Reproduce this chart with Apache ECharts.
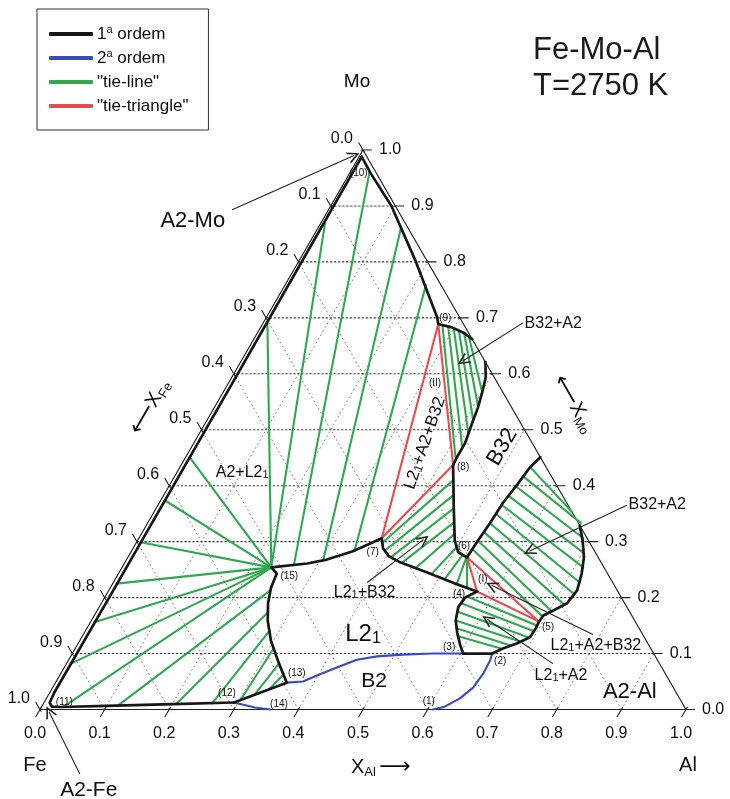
<!DOCTYPE html>
<html>
<head>
<meta charset="utf-8">
<script src="https://cdn.jsdelivr.net/npm/echarts@6/dist/echarts.min.js"></script>
<style>
  html, body { margin: 0; padding: 0; background: #fff; }
  #chart { width: 730px; height: 799px; }
</style>
</head>
<body>
<div id="chart"></div>
<script>
// Fe-Mo-Al isothermal section at T = 2750 K.
// Every composition below is written as [x_Al, x_Mo]; x_Fe = 1 - x_Al - x_Mo.

// ---- axis ticks ----
const tickValues = [0, 0.1, 0.2, 0.3, 0.4, 0.5, 0.6, 0.7, 0.8, 0.9, 1.0];
const tickLabels = ['0.0', '0.1', '0.2', '0.3', '0.4', '0.5', '0.6', '0.7', '0.8', '0.9', '1.0'];
const gridValues = [0.1, 0.2, 0.3, 0.4, 0.5, 0.6, 0.7, 0.8, 0.9];

// ---- first-order boundaries ----
const bndA2FeMo = [[0.004, 0.988], [0.006, 0.60], [0.007, 0.20], [0.007, 0.03], [0.009, 0.012], [0.016, 0.005], [0.03, 0.0045], [0.10, 0.0065], [0.20, 0.0095], [0.294, 0.0125]];
const bndA2MoAl = [[0.004, 0.988], [0.031, 0.960], [0.094, 0.900], [0.182, 0.800], [0.265, 0.700], [0.272, 0.689]];
const bndA2Cap = [[0.272, 0.689], [0.296, 0.683], [0.318, 0.674], [0.338, 0.662]];
const bndB32Upper = [[0.379, 0.621], [0.393, 0.594], [0.400, 0.571], [0.408, 0.540], [0.413, 0.512], [0.420, 0.476], [0.420, 0.454], [0.421, 0.437]];
const bndB32L21 = [[0.421, 0.437], [0.460, 0.361], [0.491, 0.302], [0.507, 0.281], [0.525, 0.272]];
const bndB32Lower = [[0.525, 0.272], [0.527, 0.302], [0.530, 0.333], [0.532, 0.369], [0.538, 0.404], [0.542, 0.433], [0.549, 0.451]];
const bndA2Al = [[0.671, 0.329], [0.689, 0.302], [0.706, 0.272], [0.717, 0.243], [0.725, 0.213], [0.721, 0.190], [0.706, 0.177], [0.695, 0.168], [0.694, 0.157], [0.695, 0.145], [0.694, 0.129], [0.679, 0.118], [0.662, 0.109], [0.650, 0.100]];
const bndB2Top = [[0.650, 0.100], [0.605, 0.100]];
const bndL21Right = [[0.605, 0.100], [0.593, 0.115], [0.578, 0.136], [0.564, 0.159], [0.556, 0.183], [0.558, 0.200], [0.571, 0.211]];
const bndL21Top = [[0.571, 0.211], [0.530, 0.225], [0.477, 0.245], [0.426, 0.263], [0.403, 0.274], [0.387, 0.288], [0.376, 0.306], [0.366, 0.299], [0.343, 0.283], [0.310, 0.268], [0.283, 0.261], [0.231, 0.254]];
const bndL21Left = [[0.231, 0.254], [0.245, 0.243], [0.249, 0.217], [0.258, 0.190], [0.273, 0.159], [0.296, 0.123], [0.329, 0.082], [0.358, 0.048], [0.294, 0.0125]];

// ---- second-order boundaries ----
const ord2Fe = [[0.294, 0.0125], [0.331, 0.0036], [0.356, 0]];
const ord2Mid = [[0.358, 0.048], [0.382, 0.050], [0.402, 0.063], [0.422, 0.075], [0.446, 0.089], [0.474, 0.095], [0.513, 0.098], [0.558, 0.100], [0.605, 0.100]];
const ord2Al = [[0.650, 0.100], [0.653, 0.088], [0.654, 0.064], [0.651, 0.039], [0.640, 0.020], [0.624, 0.005], [0.608, 0]];

// ---- tie-triangles ----
const triangleII = [[0.272, 0.689], [0.421, 0.437], [0.376, 0.306], [0.272, 0.689]];
const triangleI = [[0.525, 0.272], [0.694, 0.157], [0.571, 0.211], [0.525, 0.272]];

// ---- tie-lines ----
const tieA2L21 = [
  [[0.006, 0.871], [0.231, 0.254]],
  [[0.030, 0.960], [0.264, 0.258]],
  [[0.128, 0.862], [0.305, 0.267]],
  [[0.218, 0.759], [0.345, 0.284]],
  [[0.006, 0.692], [0.231, 0.254]],
  [[0.006, 0.451], [0.231, 0.254]],
  [[0.006, 0.374], [0.231, 0.254]],
  [[0.006, 0.299], [0.231, 0.254]],
  [[0.006, 0.225], [0.231, 0.254]],
  [[0.006, 0.156], [0.231, 0.254]],
  [[0.007, 0.082], [0.231, 0.254]],
  [[0.034, 0.005], [0.231, 0.254]],
  [[0.117, 0.007], [0.250, 0.213]],
  [[0.206, 0.010], [0.266, 0.174]],
  [[0.261, 0.011], [0.285, 0.141]],
  [[0.302, 0.017], [0.307, 0.109]],
  [[0.319, 0.027], [0.329, 0.082]],
  [[0.337, 0.037], [0.346, 0.063]]
];
const tieL21B32 = [
  [[0.381, 0.298], [0.435, 0.410]],
  [[0.392, 0.284], [0.449, 0.384]],
  [[0.407, 0.272], [0.461, 0.360]],
  [[0.429, 0.262], [0.474, 0.335]],
  [[0.455, 0.253], [0.485, 0.314]],
  [[0.485, 0.242], [0.500, 0.291]],
  [[0.510, 0.233], [0.516, 0.276]],
  [[0.533, 0.224], [0.524, 0.272]],
  [[0.552, 0.218], [0.525, 0.272]]
];
const tieB32A2Upper = [
  [[0.280, 0.686], [0.420, 0.447]],
  [[0.290, 0.684], [0.419, 0.469]],
  [[0.300, 0.681], [0.416, 0.494]],
  [[0.310, 0.677], [0.412, 0.517]],
  [[0.320, 0.673], [0.407, 0.542]],
  [[0.331, 0.666], [0.401, 0.567]]
];
const tieB32A2Lower = [
  [[0.545, 0.431], [0.646, 0.354]],
  [[0.539, 0.417], [0.671, 0.333]],
  [[0.537, 0.399], [0.688, 0.306]],
  [[0.536, 0.381], [0.703, 0.279]],
  [[0.533, 0.365], [0.714, 0.254]],
  [[0.532, 0.349], [0.722, 0.227]],
  [[0.530, 0.333], [0.724, 0.206]],
  [[0.529, 0.317], [0.717, 0.188]],
  [[0.528, 0.301], [0.705, 0.175]],
  [[0.527, 0.286], [0.695, 0.166]]
];
const tieL21A2 = [
  [[0.560, 0.202], [0.694, 0.150]],
  [[0.557, 0.190], [0.695, 0.140]],
  [[0.558, 0.175], [0.691, 0.129]],
  [[0.564, 0.159], [0.681, 0.122]],
  [[0.572, 0.145], [0.670, 0.115]],
  [[0.582, 0.131], [0.659, 0.109]]
];

// ---- invariant points ----
const nodeNames = ['(1)', '(2)', '(3)', '(4)', '(5)', '(6)', '(7)', '(8)', '(9)', '(10)', '(11)', '(12)', '(13)', '(14)', '(15)', '(I)', '(II)'];
const nodeAt = [[0.608, 0], [0.650, 0.100], [0.605, 0.100], [0.571, 0.211], [0.694, 0.157], [0.525, 0.272], [0.376, 0.306], [0.421, 0.437], [0.272, 0.689], [0.004, 0.988], [0.012, 0.005], [0.294, 0.0125], [0.358, 0.048], [0.356, 0], [0.231, 0.254], [0.569, 0.233], [0.320, 0.583]];

// ---- phase field names ----
const phaseNames = ['A2-Mo', 'A2-Fe', 'A2-Al', 'B2', 'L21', 'B32', 'L21+A2+B32', 'A2+L21', 'L21+B32', 'L21+A2+B32', 'L21+A2', 'B32+A2', 'B32+A2'];
const phaseAt = [[-0.200, 0.873], [0.148, -0.145], [0.897, 0.032], [0.492, 0.050], [0.433, 0.134], [0.481, 0.469], [0.358, 0.476], [0.101, 0.424], [0.398, 0.209], [0.803, 0.115], [0.776, 0.061], [0.450, 0.689], [0.772, 0.367]];

// ---- pointer arrows (tail -> head) ----
const pointerFrom = [[-0.149, 0.893], [0.119, -0.115], [0.402, 0.691], [0.726, 0.365], [0.393, 0.227], [0.789, 0.134], [0.753, 0.082]];
const pointerTo = [[-0.009, 0.990], [0.016, -0.004], [0.343, 0.623], [0.616, 0.283], [0.442, 0.304], [0.588, 0.222], [0.612, 0.161]];

// ---------------------------------------------------------------
const H = Math.sqrt(3) / 2;
const toXY = p => [p[0] + p[1] / 2, p[1] * H];
const FONT = '"Liberation Sans", Arial, Helvetica, sans-serif';
const ARROW_FONT = '"DejaVu Sans", sans-serif';
const INK = '#0d0d0d';

const COL_BLACK = '#161616';
const COL_BLUE = '#3a4bbf';
const COL_GREEN = '#2fa84f';
const COL_RED = '#e84a50';

function pathSeries(name, list, color, width, z, dash) {
  return {
    type: 'lines', name: name, coordinateSystem: 'cartesian2d', polyline: true,
    silent: true, animation: false, clip: false, z: z,
    lineStyle: { color: color, width: width, type: dash || 'solid', opacity: 1, cap: 'round', join: 'round' },
    itemStyle: { color: color },
    data: list.map(pl => ({ coords: pl.map(toXY) }))
  };
}

function textSeries(items, z) {
  return {
    type: 'scatter', silent: true, animation: false, clip: false, z: z,
    symbolSize: 0,
    itemStyle: { opacity: 1 },
    data: items.map(it => ({
      value: toXY(it.at),
      label: Object.assign({
        show: true, position: 'inside', formatter: () => it.text,
        fontFamily: FONT, color: INK, opacity: 1, align: 'center', verticalAlign: 'middle'
      }, it.style)
    }))
  };
}

// subscript "1" in L2_1
const subL21 = s => s.replace(/L21/g, 'L2{s|1}');

// triangle frame, grid, ticks
const frame = [[[0, 0], [1, 0], [0, 1], [0, 0]]];
const gridMo = gridValues.map(v => [[0, v], [1 - v, v]]);
const gridAl = gridValues.map(v => [[v, 0], [v, 1 - v]]);
const gridFe = gridValues.map(v => [[1 - v, 0], [0, 1 - v]]);
const ticksAl = tickValues.map(v => [[v, 0.004], [v, -0.013]]);
const ticksMo = tickValues.map(v => [[1 - v - 0.003, v], [1 - v + 0.013, v]]);
const ticksFe = tickValues.map(v => [[0.003, 1 - v - 0.003], [-0.013, 1 - v + 0.013]]);

const tickItems = [];
tickValues.forEach((v, i) => {
  tickItems.push({ at: [v, 0], text: tickLabels[i], style: { offset: [-5, 24], align: 'center', fontSize: 16 } });
  tickItems.push({ at: [1 - v, v], text: tickLabels[i], style: { offset: [16, 0], align: 'left', fontSize: 16 } });
  tickItems.push({ at: [0, 1 - v], text: tickLabels[i], style: { offset: [-10, -11], align: 'right', fontSize: 16 } });
});

const nodeShift = [[-4, -8], [8, 8], [-14, -6], [-18, 3], [9, 6], [-3, -11], [-9, 14], [10, 2], [7, -6], [-3, 17], [15, -4], [-7, -9], [10, -9], [9, -5], [18, 9], [0, 0], [0, 0]];
const nodeItems = nodeNames.map((n, i) => ({
  at: nodeAt[i], text: n, style: { offset: nodeShift[i], fontSize: 10, color: '#111' }
}));
// (I) and (II) label the tie-triangles themselves
nodeItems[15].at = [0.569, 0.233];
nodeItems[16].at = [0.320, 0.583];

const phaseSize = [22, 21, 22, 21, 24, 22, 17, 16, 16, 16, 16, 16, 16];
const phaseAngle = [0, 0, 0, 0, 0, 60, 71, 0, 0, 0, 0, 0, 0];
const phaseItems = phaseNames.map((n, i) => ({
  at: phaseAt[i], text: subL21(n),
  style: {
    fontSize: phaseSize[i], rotate: phaseAngle[i],
    rich: { s: { fontSize: Math.round(phaseSize[i] * 0.68), fontFamily: FONT, color: INK, verticalAlign: 'bottom', lineHeight: Math.round(phaseSize[i] * 0.55) } }
  }
}));

const arrowHead = 'path://M0,10 L5,0 L10,10 L8.5,10 L5,3 L1.5,10 Z';

const legendNames = ['1ª ordem', '2ª ordem', '"tie-line"', '"tie-triangle"'];

const axisTitleRich = {
  a: { fontFamily: ARROW_FONT, fontSize: 22, lineHeight: 24, verticalAlign: 'middle', fill: INK },
  x: { fontFamily: FONT, fontSize: 20, lineHeight: 24, verticalAlign: 'middle', fill: INK },
  s: { fontFamily: FONT, fontSize: 13, lineHeight: 12, verticalAlign: 'bottom', fill: INK }
};

const option = {
  backgroundColor: '#ffffff',
  animation: false,
  grid: { left: 40, top: 150, width: 646, height: 559.5, show: false },
  xAxis: { type: 'value', min: 0, max: 1, show: false },
  yAxis: { type: 'value', min: 0, max: H, show: false },
  legend: {
    data: legendNames,
    orient: 'vertical', left: 37, top: 9,
    icon: 'rect', itemWidth: 42, itemHeight: 2.2, itemGap: 4,
    padding: [15, 20, 14, 12],
    borderColor: '#333', borderWidth: 1, borderRadius: 0,
    selectedMode: false,
    formatter: n => n.replace(/^(\d)ª/, '$1{sup|a}'),
    textStyle: {
      fontFamily: FONT, fontSize: 17, color: INK, lineHeight: 20,
      rich: { sup: { fontFamily: FONT, fontSize: 11, color: INK, verticalAlign: 'top', lineHeight: 9 } }
    }
  },
  graphic: [
    { type: 'text', x: 533, y: 50, silent: true, style: { text: 'Fe-Mo-Al', fontFamily: FONT, fontSize: 31, fill: '#1a1a1a', align: 'left', verticalAlign: 'middle' } },
    { type: 'text', x: 533, y: 86, silent: true, style: { text: 'T=2750 K', fontFamily: FONT, fontSize: 31, fill: '#1a1a1a', align: 'left', verticalAlign: 'middle' } },
    { type: 'text', x: 357, y: 82, silent: true, style: { text: 'Mo', fontFamily: FONT, fontSize: 19, fill: INK, align: 'center', verticalAlign: 'middle' } },
    { type: 'text', x: 35, y: 765, silent: true, style: { text: 'Fe', fontFamily: FONT, fontSize: 20, fill: INK, align: 'center', verticalAlign: 'middle' } },
    { type: 'text', x: 688, y: 765, silent: true, style: { text: 'Al', fontFamily: FONT, fontSize: 20, fill: INK, align: 'center', verticalAlign: 'middle' } },
    {
      type: 'text', x: 351, y: 767, silent: true,
      style: { text: '{x|X}{s|Al} {a|⟶}', fontFamily: FONT, fill: INK, align: 'left', verticalAlign: 'middle', rich: axisTitleRich }
    },
    {
      type: 'text', x: 150, y: 407, rotation: Math.PI / 3, silent: true,
      style: { text: '{a|⟵}{x|X}{s|Fe}', fontFamily: FONT, fill: INK, align: 'center', verticalAlign: 'middle', rich: axisTitleRich }
    },
    {
      type: 'text', x: 574, y: 404, rotation: -Math.PI / 3, silent: true,
      style: { text: '{a|⟵}{x|X}{s|Mo}', fontFamily: FONT, fill: INK, align: 'center', verticalAlign: 'middle', rich: axisTitleRich }
    }
  ],
  series: [
    // grid
    pathSeries('', gridAl, '#8a8a8a', 1, 1, [1, 3.5]),
    pathSeries('', gridFe, '#8a8a8a', 1, 1, [1, 3.5]),
    pathSeries('', gridMo, '#3a3a3a', 1.1, 1, [1.4, 2.6]),
    // frame and ticks
    pathSeries('', frame, '#222', 1.2, 2),
    pathSeries('', ticksAl, '#222', 1.1, 2),
    pathSeries('', ticksMo, '#222', 1.1, 2),
    pathSeries('', ticksFe, '#222', 1.1, 2),
    // tie-lines
    pathSeries('"tie-line"', [].concat(tieA2L21, tieL21B32, tieB32A2Upper, tieB32A2Lower, tieL21A2), COL_GREEN, 2.1, 3),
    // tie-triangles
    pathSeries('"tie-triangle"', [triangleII, triangleI], COL_RED, 2.1, 4),
    // second-order
    pathSeries('2ª ordem', [ord2Fe, ord2Mid, ord2Al], COL_BLUE, 2.1, 5),
    // first-order
    pathSeries('1ª ordem', [bndA2FeMo, bndA2MoAl, bndA2Cap, bndB32Upper, bndB32L21, bndB32Lower, bndA2Al, bndB2Top, bndL21Right, bndL21Top, bndL21Left], COL_BLACK, 2.7, 6),
    // pointer arrows
    {
      type: 'lines', coordinateSystem: 'cartesian2d', silent: true, animation: false, clip: false, z: 7,
      symbol: ['none', arrowHead], symbolSize: 12,
      lineStyle: { color: '#222', width: 1.1, opacity: 1 },
      itemStyle: { color: '#222' },
      data: pointerFrom.map((p, i) => ({ coords: [toXY(p), toXY(pointerTo[i])] }))
    },
    // texts
    textSeries(tickItems, 8),
    textSeries(nodeItems, 8),
    textSeries(phaseItems, 8)
  ]
};

const chart = echarts.init(document.getElementById('chart'), null, { renderer: 'canvas' });
chart.setOption(option);
</script>
</body>
</html>
